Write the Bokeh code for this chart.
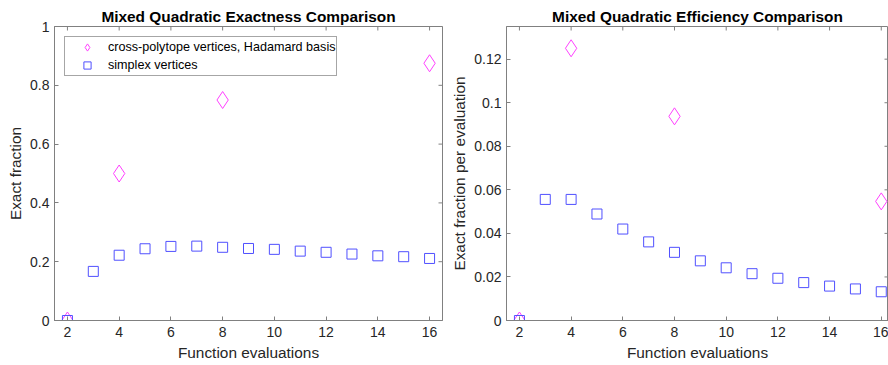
import math
from bokeh.plotting import figure
from bokeh.layouts import row
from bokeh.models import ColumnDataSource, FixedTicker, Range1d, Legend, LegendItem
from bokeh.embed import file_html
from bokeh.resources import INLINE

# ---- data ----
evals_cross = [2, 4, 8, 16]
exact_cross = [0.0, 0.5, 0.75, 0.875]
eff_cross = [0.0, 0.125, 0.09375, 0.0547]

evals_simplex = [2, 3, 4, 5, 6, 7, 8, 9, 10, 11, 12, 13, 14, 15, 16]
exact_simplex = [0.0, 0.167, 0.222, 0.244, 0.252, 0.253, 0.249, 0.245, 0.242,
                 0.236, 0.232, 0.226, 0.220, 0.217, 0.211]
eff_simplex = [0.0, 0.0556, 0.0556, 0.0489, 0.0420, 0.0361, 0.0313, 0.0274, 0.0242,
               0.0215, 0.0194, 0.0174, 0.0158, 0.0145, 0.0132]

x_ticks = [2, 4, 6, 8, 10, 12, 14, 16]
y_ticks_left = [0, 0.2, 0.4, 0.6, 0.8, 1]
y_ticks_right = [0, 0.02, 0.04, 0.06, 0.08, 0.1, 0.12]

titles = ["Mixed Quadratic Exactness Comparison", "Mixed Quadratic Efficiency Comparison"]
ylabels = ["Exact fraction", "Exact fraction per evaluation"]
xlabel = "Function evaluations"
legend_labels = ["cross-polytope vertices, Hadamard basis", "simplex vertices"]

FONT = "Liberation Sans"
AX = "#808080"
TXT = "#262626"
MAG = "#FF40FF"
BLU = "#5050FF"


def make(title, ylabel, ycross, ysimp, yticks, xr, yr, width, left, right_border, legend):
    p = figure(width=width, height=365, output_backend="svg", toolbar_location=None,
               x_range=Range1d(*xr), y_range=Range1d(*yr),
               min_border_left=left, min_border_right=right_border,
               min_border_top=26, min_border_bottom=45)
    p.background_fill_color = "white"
    p.border_fill_color = "white"
    p.outline_line_color = AX
    p.outline_line_width = 1
    p.grid.visible = False

    p.title.text = title
    p.title.align = "center"
    p.title.text_font = FONT
    p.title.text_font_size = "15.4px"
    p.title.text_font_style = "bold"
    p.title.text_color = "black"
    p.title.offset = 0
    p.title.standoff = 3

    for ax in (p.xaxis[0], p.yaxis[0]):
        ax.axis_line_color = AX
        ax.major_tick_line_color = AX
        ax.major_tick_in = 4
        ax.major_tick_out = 0
        ax.minor_tick_line_color = None
        ax.major_label_text_font = FONT
        ax.major_label_text_font_size = "14px"
        ax.major_label_text_color = TXT
        ax.axis_label_text_font = FONT
        ax.axis_label_text_font_size = "15.4px"
        ax.axis_label_text_font_style = "normal"
        ax.axis_label_text_color = TXT

    p.xaxis.ticker = FixedTicker(ticks=x_ticks)
    p.yaxis.ticker = FixedTicker(ticks=yticks)
    p.xaxis.axis_label = xlabel
    p.yaxis.axis_label = ylabel
    p.xaxis.major_label_standoff = 6
    p.xaxis.axis_label_standoff = 4
    p.yaxis.major_label_standoff = 5
    p.yaxis.axis_label_standoff = 3

    # mirrored inward ticks on the top and right edges (half of each dash is clipped by the frame)
    p.scatter(x=x_ticks, y=[yr[1]] * len(x_ticks), marker="dash", size=8,
              angle=math.pi / 2, line_color=AX, line_width=1)
    p.scatter(x=[xr[1]] * len(yticks), y=yticks, marker="dash", size=8,
              line_color=AX, line_width=1)

    src_c = ColumnDataSource(dict(x=evals_cross, y=ycross))
    src_s = ColumnDataSource(dict(x=evals_simplex, y=ysimp))
    r_c = p.scatter("x", "y", source=src_c, marker="diamond", size=17,
                    fill_color=None, line_color=MAG, line_width=1)
    r_s = p.scatter("x", "y", source=src_s, marker="square", size=10,
                    fill_color=None, line_color=BLU, line_width=1)

    if legend:
        lg = Legend(items=[LegendItem(label=legend_labels[0], renderers=[r_c]),
                           LegendItem(label=legend_labels[1], renderers=[r_s])],
                    location="top_left")
        lg.margin = 10
        lg.padding = 1
        lg.spacing = 0
        lg.glyph_width = 42
        lg.glyph_height = 18
        lg.label_height = 18
        lg.label_standoff = 0
        lg.label_text_font = FONT
        lg.label_text_font_size = "12.6px"
        lg.label_text_color = "black"
        lg.border_line_color = "#4d4d4d"
        lg.border_line_width = 1
        lg.background_fill_color = "white"
        lg.background_fill_alpha = 1
        p.add_layout(lg)
    return p


p1 = make(titles[0], ylabels[0], exact_cross, exact_simplex, y_ticks_left,
          (1.5, 16.5), (0, 1), 444, 54, 2, True)
p2 = make(titles[1], ylabels[1], eff_cross, eff_simplex, y_ticks_right,
          (1.5, 16.28), (0, 0.135), 444, 62, 0, False)

layout = row(p1, p2)
open("out.html", "w").write(file_html(layout, INLINE))
